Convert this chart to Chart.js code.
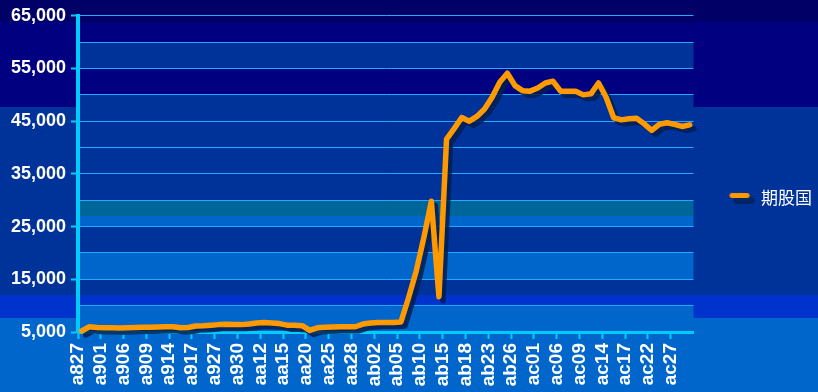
<!DOCTYPE html>
<html>
<head>
<meta charset="utf-8">
<script src="https://cdn.jsdelivr.net/npm/chart.js@4.4.1/dist/chart.umd.min.js"></script>
<style>
html, body { margin: 0; padding: 0; }
body {
    width: 818px; height: 392px; overflow: hidden;
    background: linear-gradient(to bottom,
        #000066 0px, #000066 22px,
        #000080 22px, #000080 107px,
        #003399 107px, #003399 295px,
        #0033cc 295px, #0033cc 318px,
        #0066cc 318px, #0066cc 392px);
}
canvas { display: block; }
</style>
</head>
<body>
<canvas id="myChart" width="818" height="392"></canvas>
<script>
// axis labels, one for every third trading day
var axisLabels = ['a827', 'a901', 'a906', 'a909', 'a914', 'a917', 'a927', 'a930', 'aa12', 'aa15',
                  'aa20', 'aa25', 'aa28', 'ab02', 'ab05', 'ab10', 'ab15', 'ab18', 'ab23', 'ab26',
                  'ac01', 'ac06', 'ac09', 'ac14', 'ac17', 'ac22', 'ac27'];
var pointsPerLabel = 3;

var seriesName = '期股国';
var seriesValues = [
    5200, 6000, 5850, 5800, 5800, 5750, 5800, 5850, 5900, 5900,
    5950, 6000, 6000, 5800, 5850, 6150, 6200, 6300, 6400, 6450,
    6400, 6400, 6500, 6700, 6800, 6700, 6600, 6300, 6300, 6200,
    5300, 5800, 5900, 5950, 6000, 6000, 6000, 6500, 6700, 6800,
    6800, 6800, 6900, 11500, 16500, 22800, 29800, 11700, 41600, 43600,
    45700, 45000, 45900, 47300, 49550, 52400, 54100, 51750, 50800, 50700,
    51300, 52250, 52600, 50700, 50700, 50700, 50000, 50200, 52250, 49550,
    45650, 45250, 45450, 45550, 44500, 43250, 44400, 44700, 44400, 44000,
    44300
];

var yMin = 5000, yMax = 65000, yStep = 5000, yLabelStep = 10000;

// one category per value, label only on every third one
var categories = [];
for (var i = 0; i < seriesValues.length; i++) {
    categories.push(i % pointsPerLabel === 0 ? (axisLabels[i / pointsPerLabel] || '') : '');
}

// coloured stripes behind the plot
var bandPlugin = {
    id: 'plotBands',
    beforeDraw: function(chart) {
        var ctx = chart.ctx, area = chart.chartArea, y = chart.scales.y;
        var bands = [
            [63600, 65000, '#000066'], [60000, 63600, '#000080'], [55000, 60000, '#003399'],
            [50000, 55000, '#000080'], [30000, 50000, '#003399'], [27100, 30000, '#006699'],
            [25000, 27100, '#0066cc'], [20000, 25000, '#003399'], [15000, 20000, '#0066cc'],
            [12000, 15000, '#003399'], [10000, 12000, '#0033cc'], [5000, 10000, '#0066cc']
        ];
        ctx.save();
        bands.forEach(function(b) {
            var top = Math.round(y.getPixelForValue(b[1]));
            var bottom = Math.round(y.getPixelForValue(b[0]));
            ctx.fillStyle = b[2];
            ctx.fillRect(area.left, top, area.right - area.left, bottom - top);
        });
        ctx.restore();
    }
};

// hard drop shadow under the line
var shadowPlugin = {
    id: 'lineShadow',
    beforeDatasetsDraw: function(chart) {
        var c = chart.ctx;
        c.save();
        c.shadowColor = 'rgba(0, 30, 80, 0.85)';
        c.shadowBlur = 0;
        c.shadowOffsetX = 4;
        c.shadowOffsetY = 4;
    },
    afterDatasetsDraw: function(chart) {
        chart.ctx.restore();
    }
};

// legend marker: short orange bar with its shadow
var legendMark = document.createElement('canvas');
legendMark.width = 26;
legendMark.height = 14;
var lc = legendMark.getContext('2d');
function pill(c, x, y, w, h) {
    var r = h / 2;
    c.beginPath();
    c.moveTo(x + r, y);
    c.lineTo(x + w - r, y);
    c.arc(x + w - r, y + r, r, -Math.PI / 2, Math.PI / 2);
    c.lineTo(x + r, y + h);
    c.arc(x + r, y + r, r, Math.PI / 2, Math.PI * 1.5);
    c.closePath();
    c.fill();
}
lc.fillStyle = 'rgba(0, 35, 90, 0.9)';
pill(lc, 5, 6, 21, 7);
lc.fillStyle = '#ff9900';
pill(lc, 1, 2, 20, 5);

var ctx = document.getElementById('myChart');
var myChart = new Chart(ctx, {
    type: 'line',
    data: {
        labels: categories,
        datasets: [{
            label: seriesName,
            data: seriesValues,
            borderColor: '#ff9900',
            backgroundColor: '#ff9900',
            borderWidth: 5.5,
            borderCapStyle: 'round',
            borderJoinStyle: 'round',
            pointRadius: 0,
            tension: 0,
            clip: false,
            yAxisID: 'y'
        }]
    },
    plugins: [bandPlugin, shadowPlugin],
    options: {
        responsive: false,
        animation: false,
        devicePixelRatio: 1,
        events: [],
        layout: { padding: { top: 4, left: 0, right: -4, bottom: 0 } },
        plugins: {
            tooltip: { enabled: false },
            legend: {
                position: 'right',
                labels: {
                    usePointStyle: true,
                    pointStyle: legendMark,
                    pointStyleWidth: 22,
                    color: '#ffffff',
                    font: { family: '"Noto Sans CJK SC", sans-serif', size: 17 }
                }
            }
        },
        scales: {
            x: {
                offset: true,
                afterFit: function(s) { s.height = 60; },
                border: { color: '#00ccff', width: 3 },
                grid: {
                    offset: true,
                    drawOnChartArea: false,
                    tickLength: 7,
                    tickWidth: 2,
                    tickColor: function(c) {
                        return c.index % pointsPerLabel === 0 ? '#00ccff' : 'rgba(0,0,0,0)';
                    }
                },
                ticks: {
                    autoSkip: false,
                    minRotation: 90,
                    maxRotation: 90,
                    padding: 4,
                    labelOffset: -3.8,
                    color: '#ffffff',
                    font: { family: '"Liberation Sans", Arial, sans-serif', size: 19, weight: 'bold' }
                }
            },
            xTopGap: {
                type: 'category',
                position: 'top',
                afterFit: function(s) { s.height = 11; },
                grid: { display: false, drawTicks: false },
                border: { display: false },
                ticks: { display: false }
            },
            y: {
                min: yMin,
                max: yMax,
                afterFit: function(s) { s.width = 78; },
                border: { color: '#00ccff', width: 4 },
                grid: {
                    color: '#22aaff',
                    lineWidth: 1,
                    tickLength: 7,
                    tickWidth: 2,
                    tickColor: function(c) {
                        return c.tick && (c.tick.value - yMin) % yLabelStep === 0 ? '#00ccff' : 'rgba(0,0,0,0)';
                    }
                },
                ticks: {
                    stepSize: yStep,
                    padding: 5,
                    color: '#ffffff',
                    font: { family: '"Liberation Sans", Arial, sans-serif', size: 18, weight: 'bold' },
                    callback: function(v) {
                        return (v - yMin) % yLabelStep === 0 ? v.toLocaleString('en-US') : '';
                    }
                }
            },
            yGap: {
                type: 'linear',
                position: 'right',
                afterFit: function(s) { s.width = 27; },
                grid: { display: false, drawTicks: false },
                border: { display: false },
                ticks: { display: false }
            }
        }
    }
});
</script>
</body>
</html>
